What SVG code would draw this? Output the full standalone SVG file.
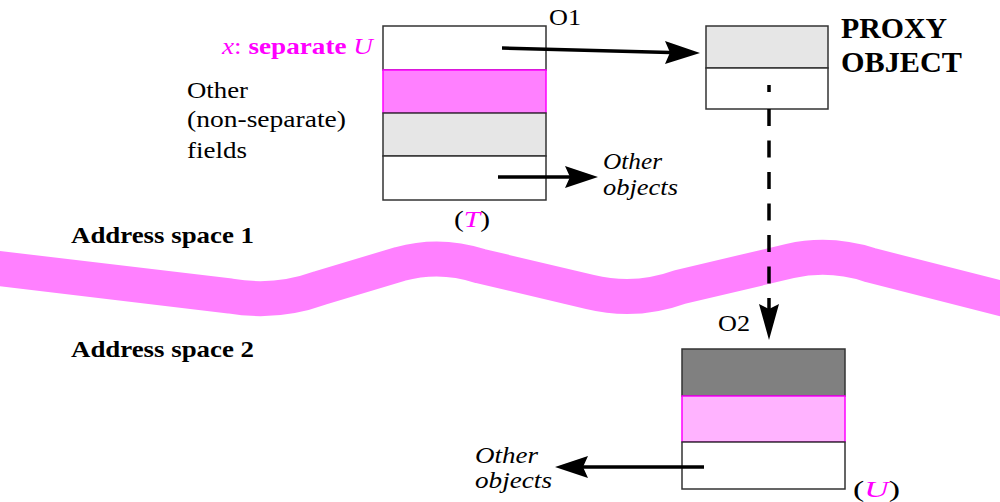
<svg xmlns="http://www.w3.org/2000/svg" width="1000" height="502" viewBox="0 0 1000 502">
<style>
.lab{font-size:23px}
.it{font-style:italic}
.b{font-weight:bold}
.mag{fill:#ff00ff}
.box{stroke:#333;stroke-width:1.5}
.ln{stroke:#000;stroke-width:3.5;fill:none}
.head{fill:#000}
</style>
<rect width="1000" height="502" fill="#fff"/>
<g id="boundary">
<path d="M -5 268 L 230 296 Q 276 304 320 288 L 400 264 Q 440 253 480 266 L 590 292 Q 636 303 680 287 L 790 261 Q 830 252 870 265 L 1015 302" fill="none" stroke="#ff80ff" stroke-width="35" stroke-linejoin="round"/>
<text font-family="Liberation Serif" class="b" x="71" y="243" font-size="24" textLength="183" lengthAdjust="spacingAndGlyphs">Address space 1</text>
<text font-family="Liberation Serif" class="b" x="71" y="357" font-size="24" textLength="183" lengthAdjust="spacingAndGlyphs">Address space 2</text>
</g>
<g id="O1">
<rect class="box" x="383" y="26" width="163" height="44" fill="#fff"/>
<rect x="383" y="70" width="163" height="43" fill="#ff80ff" stroke="#ff00ff" stroke-width="1.5"/>
<rect class="box" x="383" y="113" width="163" height="43" fill="#e6e6e6"/>
<rect class="box" x="383" y="156" width="163" height="44" fill="#fff"/>
<text font-family="Liberation Serif" class="lab" x="549" y="25" textLength="32" lengthAdjust="spacingAndGlyphs">O1</text>
<text font-family="Liberation Serif" class="lab mag" x="222" y="54" textLength="151" lengthAdjust="spacingAndGlyphs"><tspan class="it mag">x</tspan><tspan class="mag">: </tspan><tspan class="b mag">separate </tspan><tspan class="it mag">U</tspan></text>
<text font-family="Liberation Serif" class="lab" x="187" y="98" textLength="61" lengthAdjust="spacingAndGlyphs">Other</text>
<text font-family="Liberation Serif" class="lab" x="187" y="127" textLength="159" lengthAdjust="spacingAndGlyphs">(non-separate)</text>
<text font-family="Liberation Serif" class="lab" x="187" y="158" textLength="60" lengthAdjust="spacingAndGlyphs">fields</text>
<text font-family="Liberation Serif" class="lab" x="454" y="227" font-size="25" textLength="36" lengthAdjust="spacingAndGlyphs">(<tspan class="it mag">T</tspan>)</text>
</g>
<g id="proxy">
<rect class="box" x="706" y="26" width="122" height="42" fill="#e6e6e6"/>
<rect class="box" x="706" y="68" width="122" height="41" fill="#fff"/>
<text font-family="Liberation Serif" class="b" x="841" y="38" font-size="29" textLength="106" lengthAdjust="spacingAndGlyphs">PROXY</text>
<text font-family="Liberation Serif" class="b" x="841" y="72" font-size="29" textLength="121" lengthAdjust="spacingAndGlyphs">OBJECT</text>
</g>
<g id="O2">
<rect class="box" x="682" y="349" width="163" height="47" fill="#808080"/>
<rect x="682" y="396" width="163" height="46" fill="#ffb3ff" stroke="#ff00ff" stroke-width="1.5"/>
<rect class="box" x="682" y="442" width="163" height="47" fill="#fff"/>
<text font-family="Liberation Serif" class="lab" x="718" y="331" textLength="32" lengthAdjust="spacingAndGlyphs">O2</text>
<text font-family="Liberation Serif" class="lab" x="853" y="497" font-size="25" textLength="47" lengthAdjust="spacingAndGlyphs">(<tspan class="it mag">U</tspan>)</text>
</g>
<g id="others-top">
<text font-family="Liberation Serif" class="lab it" x="603" y="169" textLength="59" lengthAdjust="spacingAndGlyphs">Other</text>
<text font-family="Liberation Serif" class="lab it" x="603" y="195" textLength="75" lengthAdjust="spacingAndGlyphs">objects</text>
</g>
<g id="others-bottom">
<text font-family="Liberation Serif" class="lab it" x="475" y="463" textLength="63" lengthAdjust="spacingAndGlyphs">Other</text>
<text font-family="Liberation Serif" class="lab it" x="475" y="488" textLength="77" lengthAdjust="spacingAndGlyphs">objects</text>
</g>
<g id="connectors">
<line class="ln" x1="502" y1="48" x2="670" y2="52.5"/>
<polygon class="head" points="665,41 700,53 665,64 670,52.5"/>
<line class="ln" x1="498" y1="177" x2="570" y2="177"/>
<polygon class="head" points="565,166 598,177 565,188 570,177"/>
<line class="ln" x1="704" y1="467" x2="583" y2="467"/>
<polygon class="head" points="588,456 555,467 588,478 583,467"/>
<line class="ln" x1="769" y1="85" x2="769" y2="92"/>
<line class="ln" x1="769" y1="109" x2="769" y2="310" stroke-dasharray="17 14.5"/>
<polygon class="head" points="759,304 769,340 779,304 769,309"/>
</g>
</svg>
